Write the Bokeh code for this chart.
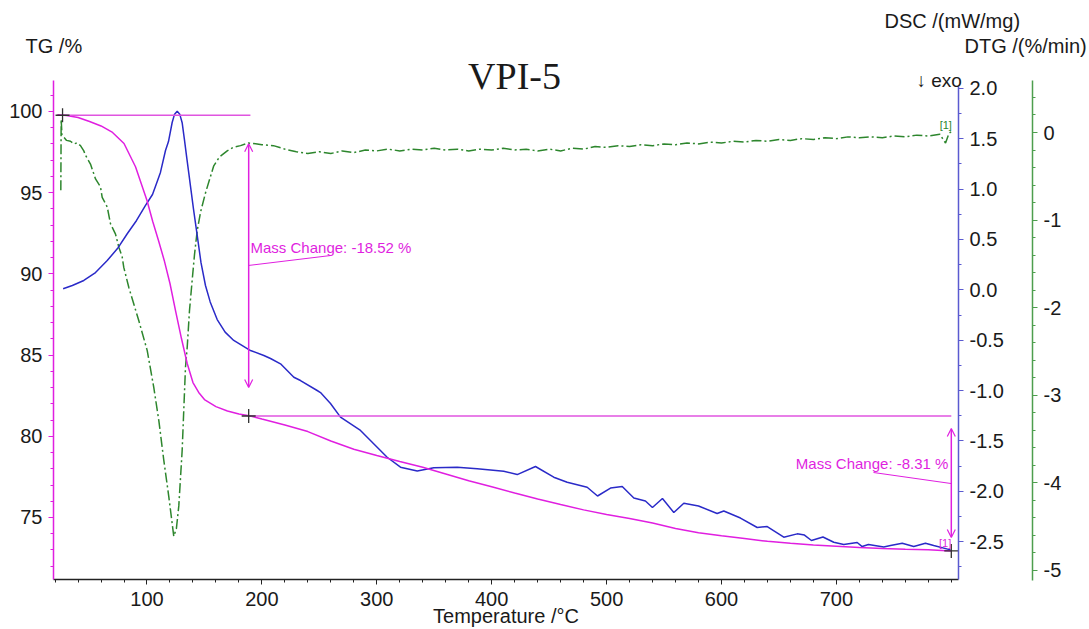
from bokeh.plotting import figure
from bokeh.models import (Range1d, LinearAxis, Label, Arrow, OpenHead, FixedTicker,
                          NumeralTickFormatter)
from bokeh.embed import file_html
from bokeh.resources import INLINE

# ---------------- data ----------------
temp_tg = [22, 30, 40, 50, 60, 70, 80, 90, 100, 105, 110, 115, 120, 125, 130, 135, 140, 145,
           150, 160, 170, 180, 190, 200, 220, 240, 260, 280, 300, 320, 340, 360, 380, 400,
           420, 440, 460, 480, 500, 520, 540, 560, 580, 600, 620, 640, 660, 680, 700, 720,
           740, 760, 780, 800]
tg = [99.80, 99.75, 99.63, 99.38, 99.11, 98.71, 98.03, 96.60, 94.52, 93.23, 92.06, 90.83,
      89.41, 87.68, 86.02, 84.48, 83.31, 82.70, 82.26, 81.83, 81.56, 81.37, 81.25, 81.06,
      80.69, 80.29, 79.71, 79.20, 78.82, 78.45, 78.09, 77.68, 77.26, 76.89, 76.51, 76.14,
      75.80, 75.47, 75.18, 74.94, 74.66, 74.32, 74.06, 73.88, 73.71, 73.53, 73.41, 73.31,
      73.23, 73.15, 73.09, 73.04, 73.01, 72.94]

temp_dsc = [27, 35.0, 45.0, 55.2, 65.4, 74.3, 82.8, 90.9, 98.7, 104.8, 108.9, 111.7, 116.1,
            118.7, 121.9, 124.0, 126.3, 128.5, 130.6, 132.5, 134.5, 136.4, 137.9, 140.5,
            143.7, 147.0, 150.9, 155.0, 161.1, 168.0, 175.5, 190.1, 201.7, 207.5, 216.2,
            227.8, 233.6, 248.1, 251.0, 259.7, 268.4, 285.8, 309.0, 320.6, 335.2, 349.6,
            370.0, 387.4, 410.5, 422.2, 438.1, 454.0, 465.7, 483.1, 492.1, 503.4, 513.6,
            523.7, 533.8, 539.9, 548.6, 558.5, 567.2, 580.0, 596.2, 602.0, 616.5, 631.1,
            639.8, 654.2, 665.9, 672.2, 678.3, 688.3, 697.7, 706.4, 718.1, 722.4, 727.9,
            741.2, 747.1, 757.3, 767.3, 777.5, 784.7, 799.3]
dsc = [0.010, 0.043, 0.093, 0.172, 0.291, 0.41, 0.557, 0.689, 0.838, 0.947, 1.076, 1.166,
       1.384, 1.473, 1.662, 1.745, 1.775, 1.745, 1.660, 1.500, 1.320, 1.156, 1.026, 0.800,
       0.540, 0.270, 0.043, -0.120, -0.295, -0.420, -0.503, -0.603, -0.652, -0.682, -0.735,
       -0.868, -0.901, -1.000, -1.020, -1.129, -1.265, -1.397, -1.663, -1.762, -1.800,
       -1.768, -1.762, -1.778, -1.802, -1.835, -1.755, -1.861, -1.911, -1.961, -2.048,
       -1.969, -1.954, -2.068, -2.098, -2.162, -2.073, -2.212, -2.120, -2.147, -2.222,
       -2.197, -2.267, -2.361, -2.351, -2.457, -2.424, -2.436, -2.490, -2.455, -2.507,
       -2.530, -2.510, -2.550, -2.530, -2.555, -2.540, -2.517, -2.550, -2.517, -2.540,
       -2.583]

temp_dtg = [25.0, 25.3, 26.0, 27.3, 30.0, 33.4, 36.3, 39.0, 42.1, 45.0, 46.5, 50.8, 55.2,
            59.5, 61.0, 65.4, 68.2, 72.6, 75.5, 78.4, 79.8, 84.2, 92.9, 100.2, 105.9, 110.3,
            114.6, 119.0, 123.3, 125.6, 127.7, 130.6, 133.5, 135.0, 137.0, 139.3, 141.3,
            143.7, 146.6, 150.9, 158.1, 163.0, 169.8, 175.0, 181.4, 188.0, 195.9,
            200, 210, 220, 230, 240, 250, 260, 270, 280, 290, 300, 310, 320, 330, 340, 350,
            360, 370, 380, 390, 400, 410, 420, 430, 440, 450, 460, 470, 480, 490, 500, 510,
            520, 530, 540, 550, 560, 570, 580, 590, 600, 610, 620, 630, 640, 650, 660, 670,
            680, 690, 700, 710, 720, 730, 740, 750, 760, 770, 780, 790, 795, 798, 800]
dtg = [-0.66, 0.15, -0.03, -0.05, -0.09, -0.10, -0.13, -0.12, -0.15, -0.21, -0.26, -0.36,
       -0.53, -0.62, -0.74, -0.85, -1.04, -1.16, -1.31, -1.42, -1.54, -1.77, -2.15, -2.49,
       -2.91, -3.29, -3.74, -4.16, -4.61, -4.52, -4.26, -3.63, -2.68, -2.45, -2.03, -1.69,
       -1.40, -1.12, -0.91, -0.69, -0.38, -0.28, -0.21, -0.17, -0.15, -0.12, -0.13,
       -0.14, -0.15, -0.19, -0.22, -0.24, -0.22, -0.24, -0.21, -0.23, -0.20, -0.21, -0.19,
       -0.21, -0.19, -0.20, -0.18, -0.20, -0.19, -0.21, -0.19, -0.20, -0.18, -0.20, -0.19,
       -0.21, -0.19, -0.21, -0.18, -0.19, -0.16, -0.17, -0.15, -0.16, -0.14, -0.15, -0.13,
       -0.14, -0.12, -0.13, -0.11, -0.12, -0.10, -0.11, -0.09, -0.10, -0.08, -0.09, -0.07,
       -0.08, -0.06, -0.07, -0.05, -0.06, -0.05, -0.06, -0.04, -0.05, -0.03, -0.04, -0.02,
       -0.12, -0.01, 0.01]

# evaluation steps (TG)
step_temp = [26.5, 188.5, 800.0]
step_mass = [99.77, 81.25, 72.94]
mass_change = ["-18.52", "-8.31"]

x_ticks = [100, 200, 300, 400, 500, 600, 700]
tg_ticks = [75, 80, 85, 90, 95, 100]
dsc_ticks = [-2.5, -2.0, -1.5, -1.0, -0.5, 0.0, 0.5, 1.0, 1.5, 2.0]
dtg_ticks = [-5, -4, -3, -2, -1, 0]

# axis extents (data units)
x_bounds = (18.63, 806.27)
tg_bounds = (71.18, 101.91)
dsc_bounds = (-2.877, 2.02)
dtg_bounds = (-5.114, 0.594)
dtg_axis_at = 870.67

# ---------------- style ----------------
MAG = "#e01fe0"
MAG_L = "#e055e0"
BLUE = "#2a2ac8"
BLUE_AX = "#5a5ad0"
GREEN = "#2d862d"
GREEN_AX = "#4e9e4e"
TXT = "#1a1a1a"
FONT = "Liberation Sans"
W, H = 1089, 629

# The frame covers the whole canvas; axes are pinned at fixed data locations.
p = figure(width=W, height=H, output_backend="svg", toolbar_location=None,
           x_range=Range1d(-27.50, 920.28), y_range=Range1d(68.103, 106.835),
           min_border=0, min_border_left=0, min_border_right=0, min_border_top=0,
           min_border_bottom=0)
p.extra_y_ranges = {"dsc": Range1d(-3.374, 2.874), "dtg": Range1d(-5.674, 1.507)}
p.grid.visible = False
p.outline_line_color = None
p.background_fill_color = "white"
p.border_fill_color = "white"

def style_axis(ax, line_color, standoff=6):
    ax.axis_line_color = line_color
    ax.axis_line_width = 1.5
    ax.major_tick_line_color = line_color
    ax.minor_tick_line_color = line_color
    ax.major_tick_out = 5
    ax.major_tick_in = 0
    ax.minor_tick_out = 3
    ax.minor_tick_in = 0
    ax.major_label_text_font = FONT
    ax.major_label_text_font_size = "20px"
    ax.major_label_text_color = TXT
    ax.major_label_standoff = standoff

xa = p.xaxis[0]
style_axis(xa, "#222222", standoff=7)
xa.fixed_location = tg_bounds[0]
xa.bounds = x_bounds
xa.ticker = FixedTicker(ticks=x_ticks, minor_ticks=list(range(20, 801, 20)))
xa.axis_label = "Temperature /°C"
xa.axis_label_text_font = FONT
xa.axis_label_text_font_style = "normal"
xa.axis_label_text_font_size = "20px"
xa.axis_label_text_color = TXT
xa.axis_label_standoff = -4

ya = p.yaxis[0]
style_axis(ya, MAG)
ya.fixed_location = x_bounds[0]
ya.bounds = tg_bounds
ya.ticker = FixedTicker(ticks=tg_ticks, minor_ticks=list(range(72, 102)))

dsc_ax = LinearAxis(y_range_name="dsc")
style_axis(dsc_ax, BLUE_AX)
dsc_ax.fixed_location = x_bounds[1]
dsc_ax.bounds = dsc_bounds
dsc_ax.ticker = FixedTicker(ticks=dsc_ticks, minor_ticks=[v / 4 for v in range(-11, 9)])
dsc_ax.formatter = NumeralTickFormatter(format="0.0")
p.add_layout(dsc_ax, "right")

dtg_ax = LinearAxis(y_range_name="dtg")
style_axis(dtg_ax, GREEN_AX)
dtg_ax.fixed_location = dtg_axis_at
dtg_ax.bounds = dtg_bounds
dtg_ax.ticker = FixedTicker(ticks=dtg_ticks, minor_ticks=[v / 5 for v in range(-25, 3)])
dtg_ax.formatter = NumeralTickFormatter(format="0")
p.add_layout(dtg_ax, "right")

# ---------------- curves ----------------
p.line(temp_dtg, dtg, y_range_name="dtg", line_color=GREEN, line_width=1.5,
       line_dash="10 3 2 3")
p.line(temp_dsc, dsc, y_range_name="dsc", line_color=BLUE, line_width=1.5)
p.line(temp_tg, tg, line_color=MAG, line_width=1.5)

# step evaluation: baselines, arrows, crosses
p.line([step_temp[0], step_temp[1] + 1.5], [step_mass[0], step_mass[0]], line_color=MAG_L,
       line_width=1.5)
p.line([step_temp[1], step_temp[2]], [step_mass[1], step_mass[1]], line_color=MAG_L,
       line_width=1.5)
arrow_inset = [(1.75, 1.75), (0.77, 0.83)]
for i in range(2):
    xa_t = step_temp[i + 1]
    top = step_mass[i] - arrow_inset[i][0]
    bot = step_mass[i + 1] + arrow_inset[i][1]
    p.add_layout(Arrow(x_start=xa_t, y_start=bot, x_end=xa_t, y_end=top,
                       start=OpenHead(size=8, line_color=MAG, line_width=1.2),
                       end=OpenHead(size=8, line_color=MAG, line_width=1.2),
                       line_color=MAG, line_width=1.5))
p.scatter(step_temp, step_mass, marker="cross", size=14, line_color="#303030",
          line_width=1.3)

# leader lines of the mass-change labels
p.line([step_temp[1], 259.7], [90.52, 91.13], line_color=MAG, line_width=1)
p.line([732.3, step_temp[2]], [77.77, 77.09], line_color=MAG, line_width=1)

p.add_layout(Label(x=190.1, y=91.63, text=f"Mass Change: {mass_change[0]} %",
                   text_font=FONT, text_font_size="15px", text_color=MAG,
                   text_baseline="middle", text_align="left"))
p.add_layout(Label(x=797.5, y=78.32, text=f"Mass Change: {mass_change[1]} %",
                   text_font=FONT, text_font_size="15px", text_color=MAG,
                   text_baseline="middle", text_align="right"))
p.add_layout(Label(x=800.5, y=0.08, y_range_name="dtg", text="[1]", text_font=FONT,
                   text_font_size="11px", text_color=GREEN, text_baseline="middle",
                   text_align="right"))
p.add_layout(Label(x=800.0, y=73.40, text="[1]", text_font=FONT,
                   text_font_size="11px", text_color=MAG, text_baseline="middle",
                   text_align="right"))

# ---------------- title / axis captions (screen units; frame == canvas) ----------------
def screen_label(text, cx, cy, size, align="left", font=FONT, color=TXT):
    p.add_layout(Label(x=cx, y=H - cy, x_units="screen", y_units="screen",
                       text=text, text_font=font, text_font_size=size, text_color=color,
                       text_align=align, text_baseline="middle"))

screen_label("VPI-5", 514, 75, "38px", align="center", font="Liberation Serif")
screen_label("TG /%", 25, 45, "20px")
screen_label("DSC /(mW/mg)", 884, 20, "20px")
screen_label("DTG /(%/min)", 964, 45, "20px")
screen_label("\u2193 exo", 916, 80, "19px")

open("out.html", "w").write(file_html(p, INLINE))
